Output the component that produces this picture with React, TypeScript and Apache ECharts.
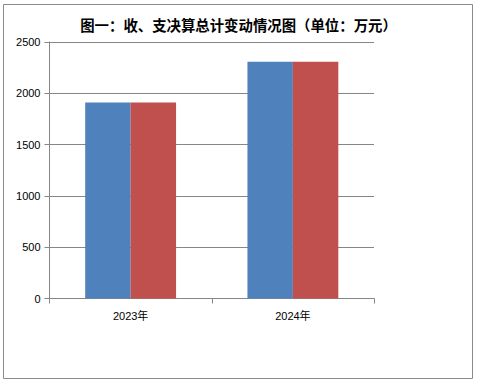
import React, { useEffect, useRef } from "react";
import * as echarts from "echarts";

const categories = ["2023年", "2024年"];
const incomeValues = [1910, 2308];
const expenseValues = [1910, 2308];
const yTicks = { min: 0, max: 2500, interval: 500 };

const FONT = "'Liberation Sans', Arial, 'Noto Sans CJK SC', sans-serif";
const GRAY = "#868686";

export default function App() {
  const ref = useRef<HTMLDivElement>(null);
  useEffect(() => {
    if (!ref.current) return;
    const chart = echarts.init(ref.current, undefined, { renderer: "svg" });
    chart.setOption({
      animation: false,
      backgroundColor: "#ffffff",
      title: {
        text: "图一：收、支决算总计变动情况图（单位：万元）",
        left: "center",
        top: 12,
        textStyle: {
          fontSize: 14.4,
          fontWeight: "bold",
          color: "#000",
          fontFamily: "'Noto Sans CJK SC', sans-serif",
        },
      },
      graphic: [
        {
          type: "rect",
          shape: { x: 3.5, y: 4.5, width: 469, height: 374 },
          style: { fill: "none", stroke: "#8a8a8a", lineWidth: 1 },
          silent: true,
        },
      ],
      grid: { left: 49.5, right: 103, top: 42, bottom: 86.5, containLabel: false },
      xAxis: {
        type: "category",
        data: categories,
        axisLine: { show: true, lineStyle: { color: GRAY, width: 1 } },
        axisTick: { show: true, length: 5, lineStyle: { color: GRAY } },
        axisLabel: { fontSize: 11, color: "#000", margin: 12, fontFamily: FONT },
      },
      yAxis: {
        type: "value",
        min: yTicks.min,
        max: yTicks.max,
        interval: yTicks.interval,
        axisLine: { show: true, lineStyle: { color: GRAY, width: 1 } },
        axisTick: { show: true, length: 5, lineStyle: { color: GRAY } },
        splitLine: { show: true, lineStyle: { color: GRAY, width: 1 } },
        axisLabel: {
          fontSize: 11,
          color: "#000",
          margin: 9,
          fontFamily: FONT,
          formatter: (v: number) => String(v),
        },
      },
      series: [
        {
          name: "收入决算总计",
          type: "bar",
          data: incomeValues,
          barGap: "0%",
          barCategoryGap: "44%",
          itemStyle: { color: "#4F81BD" },
        },
        {
          name: "支出决算总计",
          type: "bar",
          data: expenseValues,
          barGap: "0%",
          barCategoryGap: "44%",
          itemStyle: { color: "#C0504D" },
        },
      ],
    });
    return () => chart.dispose();
  }, []);
  return (
    <div
      ref={ref}
      style={{ position: "absolute", left: 0, top: 0, width: 477, height: 385 }}
    />
  );
}
